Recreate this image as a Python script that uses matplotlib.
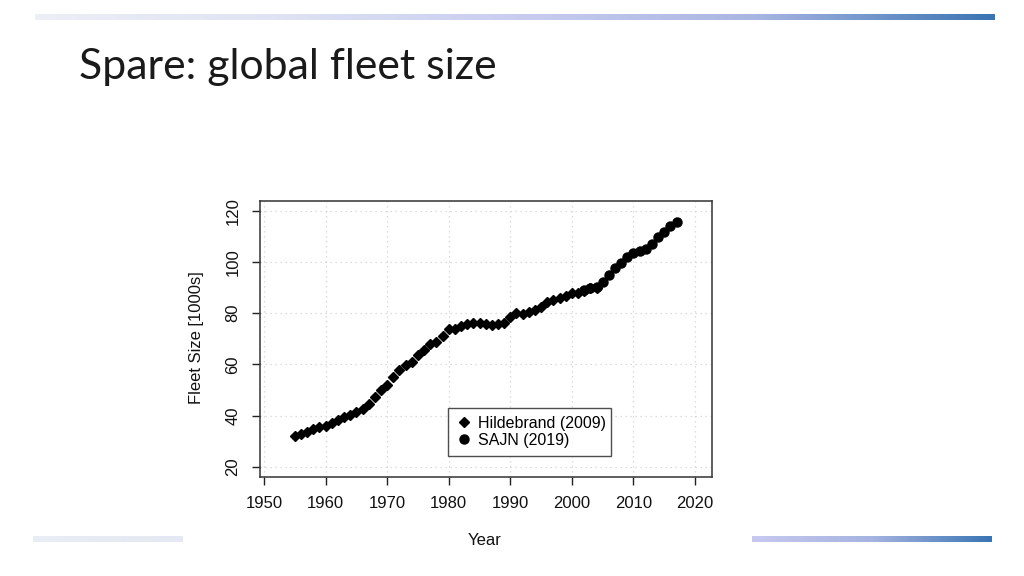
import matplotlib.pyplot as plt
import numpy as np
from matplotlib.colors import LinearSegmentedColormap

# Hildebrand (2009) series, fleet size in 1000s
hil_years = list(range(1955, 2005))
hil_fleet = [32.1, 32.9, 33.8, 35.0, 35.7, 36.0, 37.3, 38.3, 39.4, 40.3,
             41.3, 42.5, 44.6, 47.4, 50.0, 52.0, 55.0, 57.8, 59.8, 61.1,
             63.7, 65.6, 68.0, 68.9, 71.1, 73.7, 73.7, 75.0, 75.8, 76.1,
             76.3, 75.7, 75.4, 75.7, 76.3, 78.5, 80.2, 79.7, 80.6, 81.3,
             82.5, 84.5, 85.2, 85.8, 86.7, 87.8, 88.0, 88.8, 89.7, 89.7]

# SAJN (2019) series
sajn_years = list(range(2002, 2018))
sajn_fleet = [89.0, 90.0, 90.2, 92.1, 94.9, 97.5, 99.7, 102.0, 103.4, 104.4,
              105.0, 107.0, 109.6, 111.8, 114.0, 115.7]

xticks = [1950, 1960, 1970, 1980, 1990, 2000, 2010, 2020]
yticks = [20, 40, 60, 80, 100, 120]

plt.rcParams['font.family'] = ['Liberation Sans', 'DejaVu Sans']

fig = plt.figure(figsize=(10.24, 5.76), dpi=100)
W, H = 1024, 576


def gradient_bar(x0, y0, x1, y1, colors):
    bax = fig.add_axes([x0 / W, 1 - y1 / H, (x1 - x0) / W, (y1 - y0) / H])
    cmap = LinearSegmentedColormap.from_list('g', colors)
    bax.imshow(np.linspace(0, 1, 256).reshape(1, -1), aspect='auto', cmap=cmap)
    bax.axis('off')


# decorative slide bars
gradient_bar(35, 14, 995, 20, ['#eceff6', '#dfe3f3', '#c9cdf0', '#a9b6e2', '#3a74b4'])
gradient_bar(33, 536, 183, 542, ['#e9edf5', '#e4e8f2'])
gradient_bar(752, 536, 992, 542, ['#c7c9f0', '#a5b4e0', '#3a74b4'])

fig.text(79 / W, 1 - 79 / H, 'Spare: global fleet size', fontsize=30.8,
         family=['Lato', 'DejaVu Sans'], color='#1a1a1a',
         ha='left', va='baseline')

ax = fig.add_axes([260 / W, 1 - 476.7 / H, 451.7 / W, 275.7 / H])
ax.set_xlim(1949.35, 2022.7)
ax.set_ylim(16.2, 123.8)

for x in xticks:
    ax.axvline(x, color='#d3d3d3', lw=0.9, ls=(0, (1, 3)), zorder=0)
for y in yticks:
    ax.axhline(y, color='#d3d3d3', lw=0.9, ls=(0, (1, 3)), zorder=0)

ax.plot(hil_years, hil_fleet, 'D', color='black', ms=5, ls='none',
        label='Hildebrand (2009)', zorder=3)
ax.plot(sajn_years, sajn_fleet, 'o', color='black', ms=6.5, ls='none',
        label='SAJN (2019)', zorder=4)

ax.set_xticks(xticks)
ax.set_yticks(yticks)
ax.set_yticklabels([str(v) for v in yticks], rotation=90, va='center')
ax.tick_params(axis='both', direction='out', length=6, width=1, color='#222222',
               labelsize=12, labelcolor='#111111')
ax.tick_params(axis='x', pad=8)
ax.tick_params(axis='y', pad=8)
for s in ax.spines.values():
    s.set_linewidth(1.1)
    s.set_color('#333333')

ax.set_xlabel('Year', fontsize=12, color='#111111')
ax.set_ylabel('Fleet Size [1000s]', fontsize=12, color='#111111')
ax.xaxis.set_label_coords(0.498, -0.205)
ax.yaxis.set_label_coords(-0.125, 0.503)

leg = ax.legend(loc='lower left', bbox_to_anchor=(0.416, 0.075, 0.361, 0.189),
                mode='expand', borderaxespad=0, fontsize=11.5, frameon=True,
                fancybox=False, handlelength=1.0, handletextpad=0.4,
                borderpad=0.5, labelspacing=0.15)
leg.get_frame().set_edgecolor('#222222')
leg.get_frame().set_linewidth(1.0)

fig.savefig('out.png', dpi=100)
